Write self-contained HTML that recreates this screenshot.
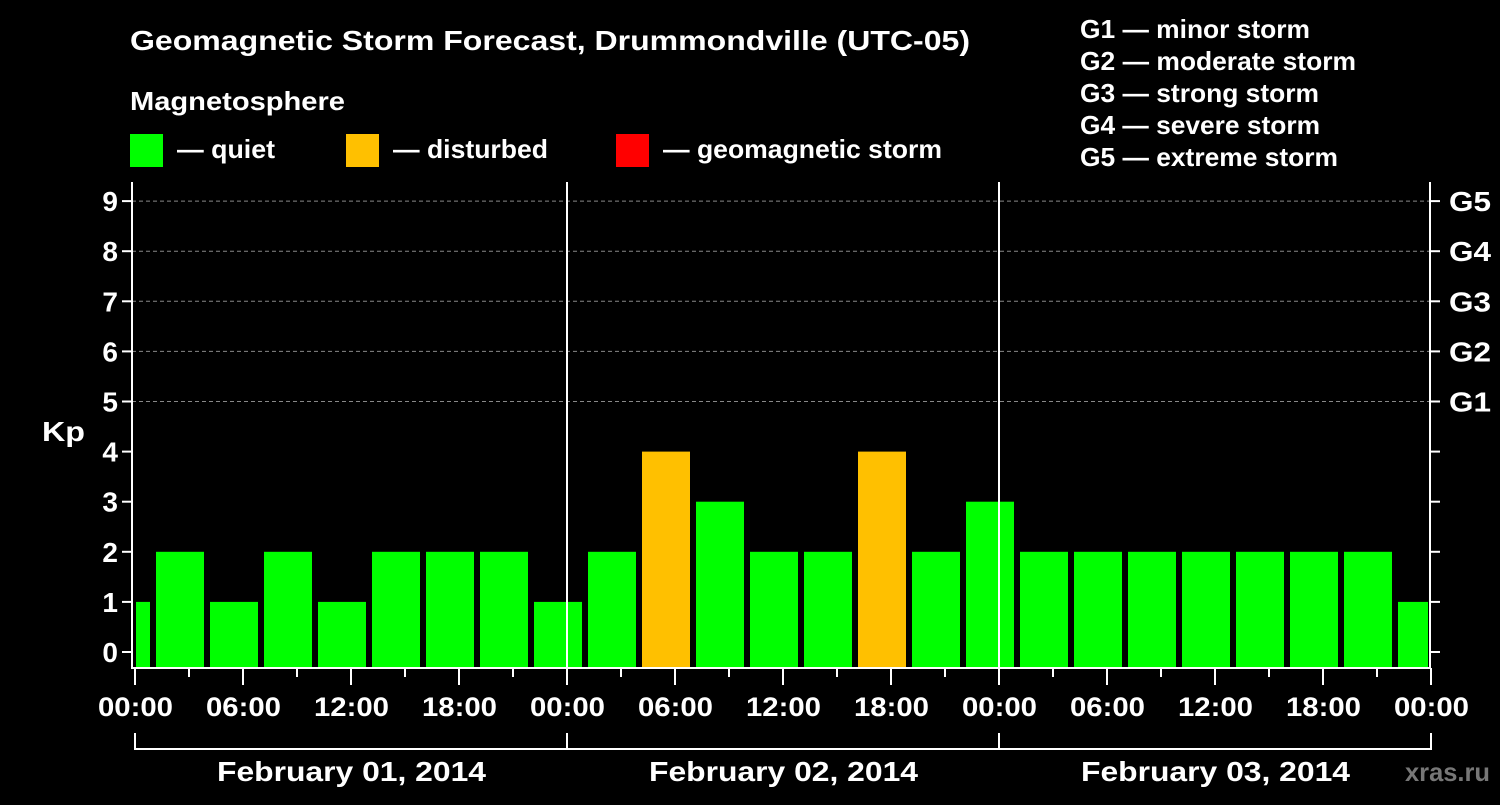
<!DOCTYPE html>
<html><head><meta charset="utf-8"><style>
body{margin:0;background:#000;width:1500px;height:800px;overflow:hidden;font-family:"Liberation Sans",sans-serif}
text{font-family:"Liberation Sans",sans-serif;font-weight:bold;fill:#fff}
</style></head><body>
<svg id="c" width="1500" height="800">
<text x="130" y="50" font-size="28" textLength="840" lengthAdjust="spacingAndGlyphs">Geomagnetic Storm Forecast, Drummondville (UTC-05)</text>
<text x="130" y="110" font-size="26" textLength="215" lengthAdjust="spacingAndGlyphs">Magnetosphere</text>
<g><rect x="130" y="134" width="33" height="33" fill="#00ff00"/><text x="177" y="158" font-size="26" textLength="98" lengthAdjust="spacingAndGlyphs">— quiet</text></g>
<g><rect x="346" y="134" width="33" height="33" fill="#ffc000"/><text x="393" y="158" font-size="26" textLength="155" lengthAdjust="spacingAndGlyphs">— disturbed</text></g>
<g><rect x="616" y="134" width="33" height="33" fill="#ff0000"/><text x="663" y="158" font-size="26" textLength="279" lengthAdjust="spacingAndGlyphs">— geomagnetic storm</text></g>
<g font-size="26" lengthAdjust="spacingAndGlyphs">
<text x="1080" y="38" textLength="230" lengthAdjust="spacingAndGlyphs">G1 — minor storm</text>
<text x="1080" y="70" textLength="276" lengthAdjust="spacingAndGlyphs">G2 — moderate storm</text>
<text x="1080" y="102" textLength="239" lengthAdjust="spacingAndGlyphs">G3 — strong storm</text>
<text x="1080" y="134" textLength="240" lengthAdjust="spacingAndGlyphs">G4 — severe storm</text>
<text x="1080" y="166" textLength="258" lengthAdjust="spacingAndGlyphs">G5 — extreme storm</text>
</g>
<text x="42" y="441" font-size="28" textLength="43" lengthAdjust="spacingAndGlyphs">Kp</text>
<text x="1405" y="781" font-size="26" textLength="85" lengthAdjust="spacingAndGlyphs" style="fill:#777">xras.ru</text>
<g id="plot"></g>
</svg>
<script>
const values=[1,2,1,2,1,2,2,2,1,2,4,3,2,2,4,2,3,2,2,2,2,2,2,2,1];
const startHours=[-2,1,4,7,10,13,16,19,22,25,28,31,34,37,40,43,46,49,52,55,58,61,64,67,70];
const yTicks=[0,1,2,3,4,5,6,7,8,9];
const gLabels=["","","","","","G1","G2","G3","G4","G5"];
const xTickLabels=["00:00","06:00","12:00","18:00","00:00","06:00","12:00","18:00","00:00","06:00","12:00","18:00","00:00"];
const dayLabels=["February 01, 2014","February 02, 2014","February 03, 2014"];
const X0=135,PXH=18,L=132,R=1430,T=182,B=668;
const x=h=>X0+h*PXH;
const y=v=>652-50.1*v;
const ns="http://www.w3.org/2000/svg";
const g=document.getElementById('plot');
function mk(t,a){const e=document.createElementNS(ns,t);for(const k in a)e.setAttribute(k,a[k]);g.appendChild(e);return e;}
yTicks.forEach((v,i)=>{
 if(v>=5){const l=mk('line',{x1:L,x2:R,y1:y(v),y2:y(v),stroke:'#888','stroke-dasharray':'4,3','stroke-width':1});
 
 }
 const t=mk('line',{x1:L-10,x2:L,y1:y(v),y2:y(v),stroke:'#fff','stroke-width':2});
 
 
 const t2=mk('line',{x1:R,x2:R+10,y1:y(v),y2:y(v),stroke:'#fff','stroke-width':2});
 
 
 const lb=mk('text',{x:L-14,y:y(v)+10,'font-size':28,'text-anchor':'end'});lb.textContent=v;
 
 
 if(gLabels[i]){const gl=mk('text',{x:R+19,y:y(v)+10,'font-size':28,textLength:42,lengthAdjust:'spacingAndGlyphs'});gl.textContent=gLabels[i];
 
 }
});
values.forEach((v,i)=>{
 let a=Math.max(x(startHours[i])+3,L+4),b=Math.min(x(startHours[i]+3)-3,R-2);
 const col=v>=5?'#ff0000':v>=4?'#ffc000':'#00ff00';
 const r=mk('rect',{x:a,y:y(v),width:b-a,height:B-y(v),fill:col});
 
 
});
[1,2].forEach(d=>{const l=mk('line',{x1:x(24*d),x2:x(24*d),y1:T,y2:B,stroke:'#fff','stroke-width':2});
 
 });
const fr=mk('path',{d:`M${L} ${T}V${B}H${R}V${T}`,fill:'none',stroke:'#fff','stroke-width':2});


for(let h=0;h<=72;h+=3){const l=mk('line',{x1:x(h),x2:x(h),y1:B,y2:h%6?677:685,stroke:'#fff','stroke-width':2});
 
 }
xTickLabels.forEach((s,i)=>{const t=mk('text',{x:x(i*6)-37,y:716,'font-size':27,textLength:75,lengthAdjust:'spacingAndGlyphs'});t.textContent=s;
 
 });
const br=mk('path',{d:`M${x(0)} 733V749H${x(72)}V733M${x(24)} 733V749M${x(48)} 733V749`,fill:'none',stroke:'#fff','stroke-width':2});


dayLabels.forEach((s,i)=>{const t=mk('text',{x:x(i*24+12)-134,y:781,'font-size':28,textLength:269,lengthAdjust:'spacingAndGlyphs'});t.textContent=s;
 
 });
</script>
</body></html>
